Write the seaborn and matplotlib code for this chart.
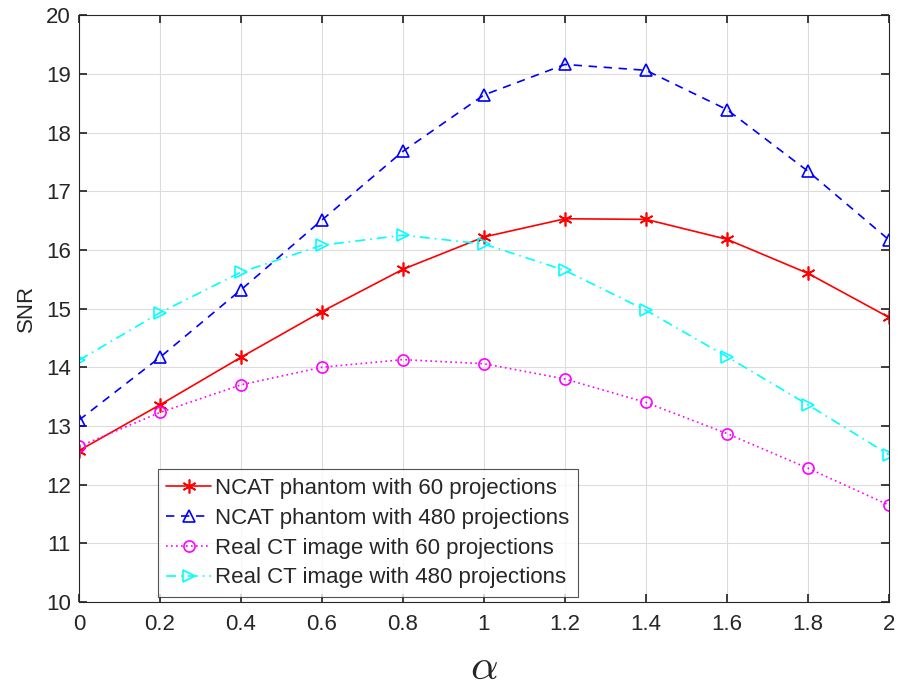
import matplotlib
matplotlib.use("Agg")
import matplotlib.pyplot as plt
import seaborn as sns
import pandas as pd

alpha = [0, 0.2, 0.4, 0.6, 0.8, 1.0, 1.2, 1.4, 1.6, 1.8, 2.0]

ncat_60 = [12.58, 13.36, 14.17, 14.95, 15.67, 16.22, 16.53, 16.52, 16.18, 15.60, 14.85]
ncat_480 = [13.10, 14.17, 15.32, 16.51, 17.68, 18.64, 19.16, 19.06, 18.39, 17.34, 16.17]
real_60 = [12.65, 13.23, 13.70, 14.00, 14.13, 14.06, 13.80, 13.40, 12.87, 12.28, 11.65]
real_480 = [14.12, 14.93, 15.62, 16.08, 16.25, 16.10, 15.65, 14.97, 14.18, 13.36, 12.51]

labels = [
    "NCAT phantom with 60 projections",
    "NCAT phantom with 480 projections",
    "Real CT image with 60 projections",
    "Real CT image with 480 projections",
]
xtick_labels = ["0", "0.2", "0.4", "0.6", "0.8", "1", "1.2", "1.4", "1.6", "1.8", "2"]

sns.set_theme(style="whitegrid")
plt.rcParams["font.family"] = ["Liberation Sans", "DejaVu Sans"]
plt.rcParams["mathtext.fontset"] = "cm"

fig = plt.figure(figsize=(9.05, 6.88), dpi=100)
ax = fig.add_axes([0.0873, 0.125, 0.895, 0.853])

# (color, marker, linestyle, marker size) - matlab-ish look
styles = [
    ("#ff0000", (6, 2, 0), "-", 10),
    ("#0000ff", "^", (0, (5, 4)), 9),
    ("#ff00ff", "o", (0, (1, 2)), 8),
    ("#00ffff", ">", (0, (6, 3, 1, 3)), 8),
]

for series, lab, (col, mk, ls, ms) in zip([ncat_60, ncat_480, real_60, real_480], labels, styles):
    df = pd.DataFrame({"alpha": alpha, "snr": series})
    sns.lineplot(data=df, x="alpha", y="snr", ax=ax, color=col, label=lab,
                 linewidth=1.2, linestyle=ls, marker=mk, markersize=ms,
                 markerfacecolor="none", markeredgecolor=col, markeredgewidth=1.2)

ax.set_xlim(0, 2)
ax.set_ylim(10, 20)
ax.set_xticks(alpha)
ax.set_xticklabels(xtick_labels)
ax.set_yticks(range(10, 21))
ax.tick_params(direction="in", length=6, labelsize=16, colors="#262626",
               top=True, right=True, bottom=True, left=True)
ax.tick_params(axis="x", pad=9)
ax.tick_params(axis="y", pad=6)
ax.grid(True, color="#dcdcdc", linewidth=0.8)
for s in ax.spines.values():
    s.set_color("#262626")
    s.set_linewidth(0.8)
ax.set_facecolor("white")

ax.set_ylabel("SNR", fontsize=16, color="#262626", labelpad=6)
ax.set_xlabel(r"$\alpha$", fontsize=31, labelpad=9)

leg = ax.legend(loc="lower left", bbox_to_anchor=(0.097, 0.008), fontsize=16,
                frameon=True, fancybox=False, handlelength=2.0, borderpad=0.4,
                labelspacing=0.4, handletextpad=0.2, borderaxespad=0)
leg.get_frame().set_edgecolor("#262626")
leg.get_frame().set_linewidth(0.8)

fig.savefig("out.png", dpi=100)
